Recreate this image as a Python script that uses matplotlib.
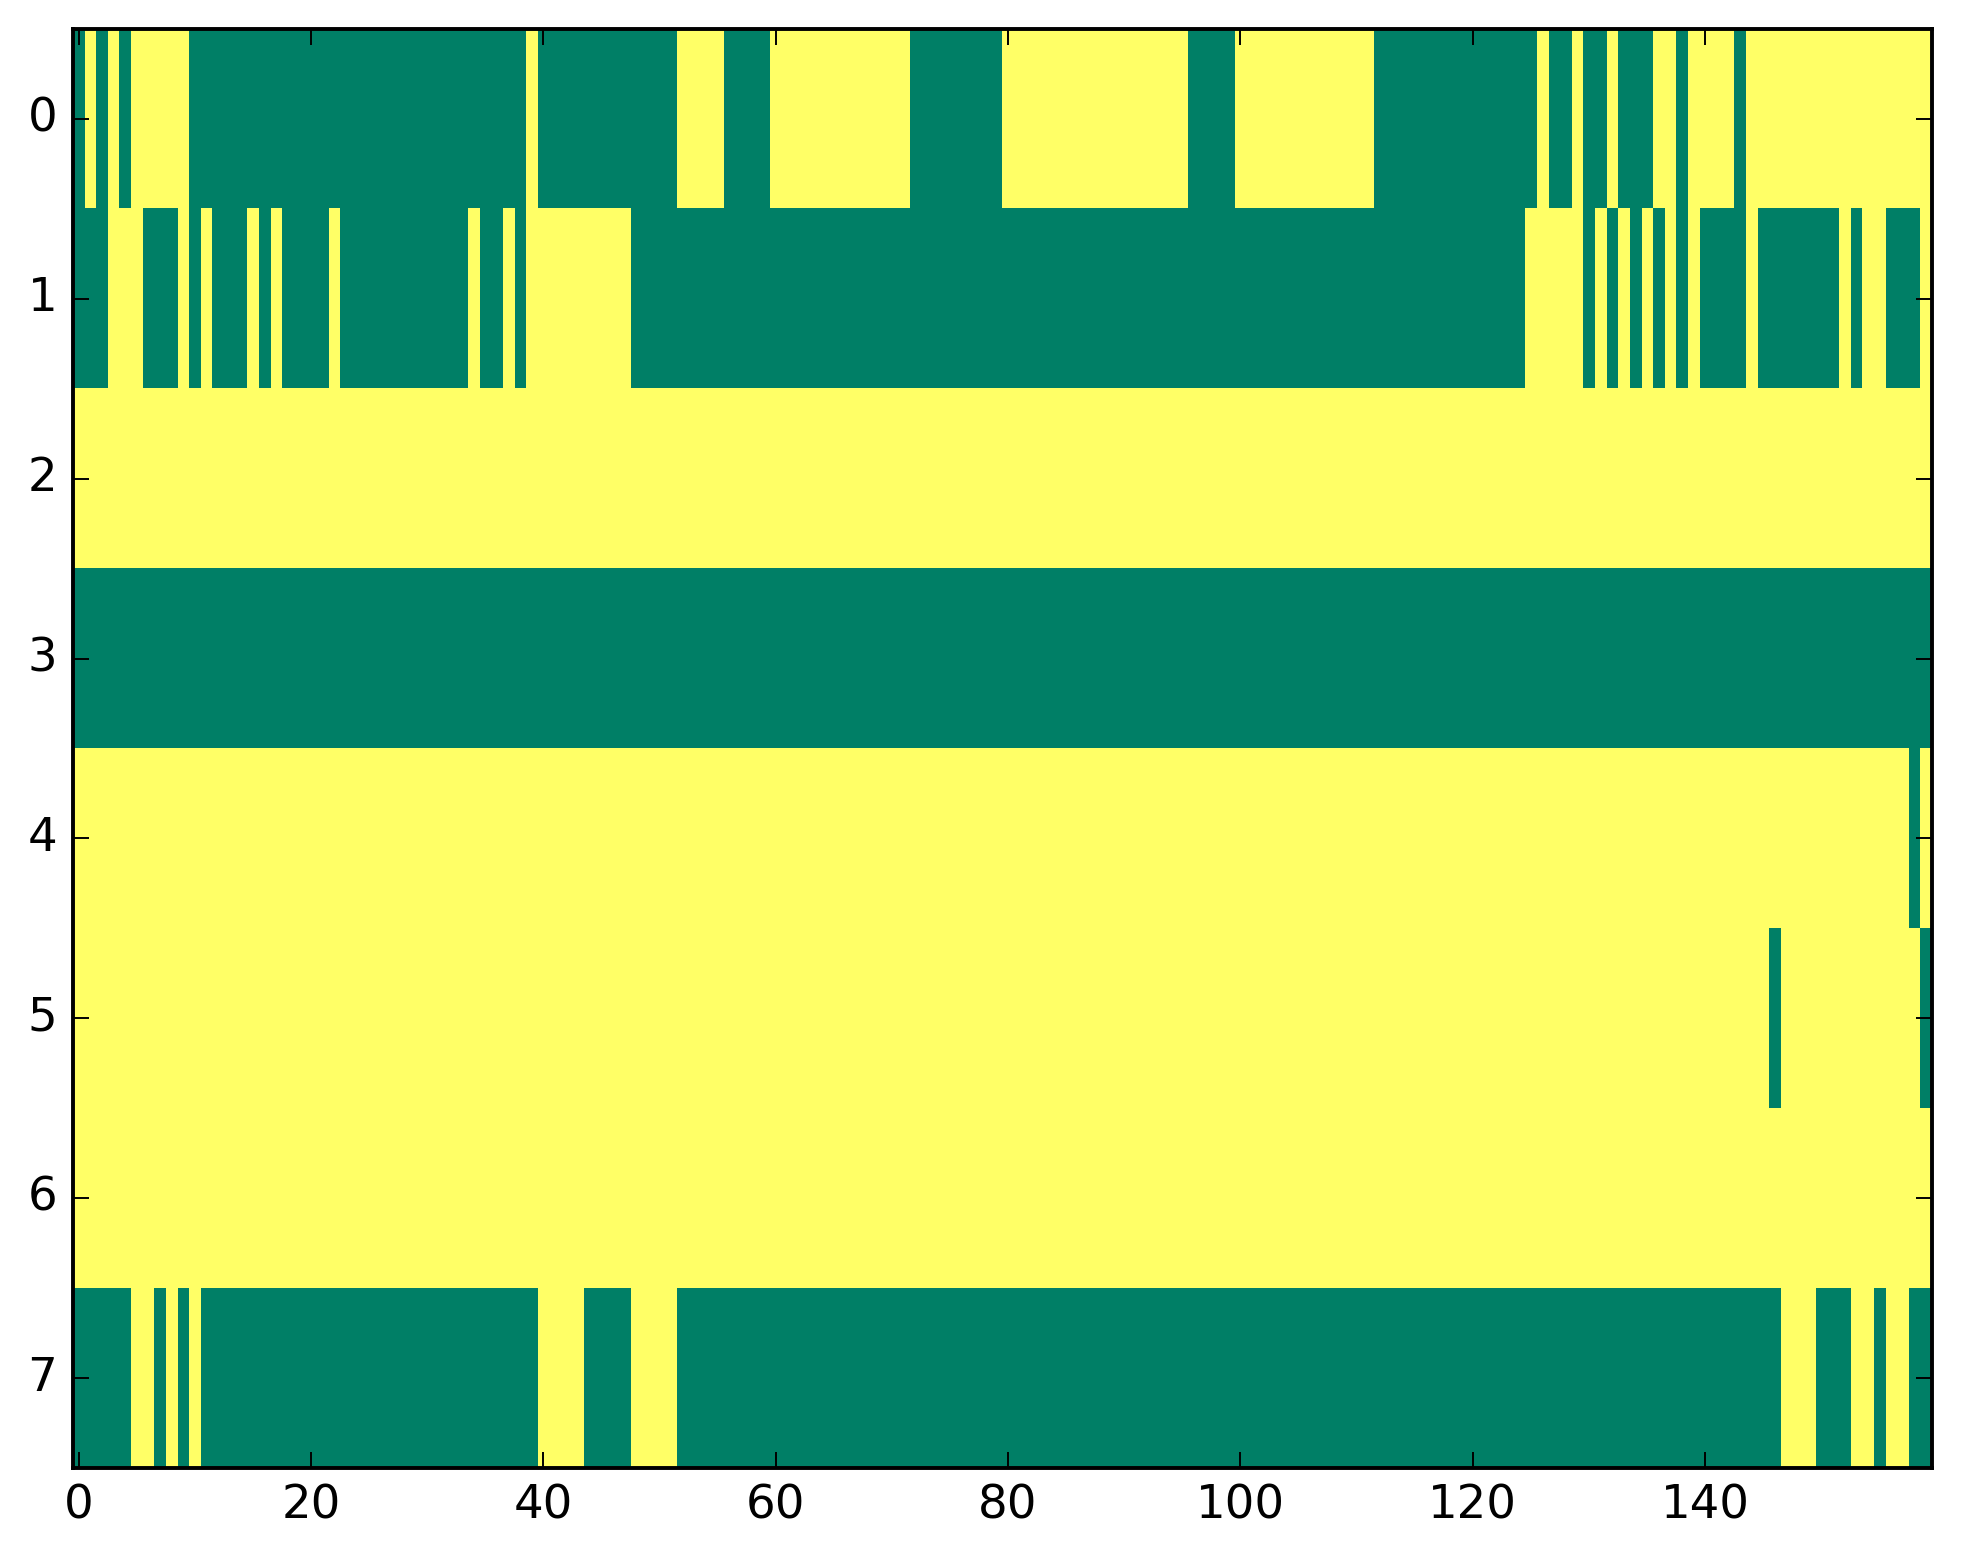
import numpy as np
import matplotlib
matplotlib.use("Agg")
import matplotlib.pyplot as plt

# grid size
n_rows = 8
n_cols = 160

# green (value 0) column spans per row, inclusive; everything else is 1 (yellow)
row0_green = [(0, 0), (2, 2), (4, 4), (10, 38), (40, 51), (56, 59), (72, 79),
              (96, 99), (112, 125), (127, 128), (130, 131), (133, 135),
              (138, 138), (143, 143)]
row1_green = [(0, 2), (6, 8), (10, 10), (12, 14), (16, 16), (18, 21), (23, 33),
              (35, 36), (38, 38), (48, 124), (130, 130), (132, 132),
              (134, 134), (136, 136), (138, 138), (140, 143), (145, 151),
              (153, 153), (156, 158)]
row2_green = []
row3_green = [(0, 159)]
row4_green = [(158, 158)]
row5_green = [(146, 146), (159, 159)]
row6_green = []
row7_green = [(0, 4), (7, 7), (9, 9), (11, 39), (44, 47), (52, 146),
              (150, 152), (155, 155), (158, 159)]

rows_green = [row0_green, row1_green, row2_green, row3_green,
              row4_green, row5_green, row6_green, row7_green]

data = np.ones((n_rows, n_cols))
for r, spans in enumerate(rows_green):
    for a, b in spans:
        data[r, a:b + 1] = 0

plt.style.use('classic')
plt.rcParams['figure.facecolor'] = 'white'
plt.rcParams['savefig.facecolor'] = 'white'
plt.rcParams['font.size'] = 12

fig = plt.figure(figsize=(1963 / 280, 1564 / 280), dpi=280)
ax = fig.add_axes([0.0371, 0.0614, 0.984 - 0.0371, 0.9815 - 0.0614])
ax.imshow(data, cmap='summer', vmin=0, vmax=1, aspect='auto',
          interpolation='nearest')
ax.set_xlim(-0.5, n_cols - 0.5)
ax.set_ylim(n_rows - 0.5, -0.5)
ax.set_xticks(np.arange(0, 141, 20))
ax.set_yticks(np.arange(0, 8))

fig.savefig('out.png', dpi=280)
